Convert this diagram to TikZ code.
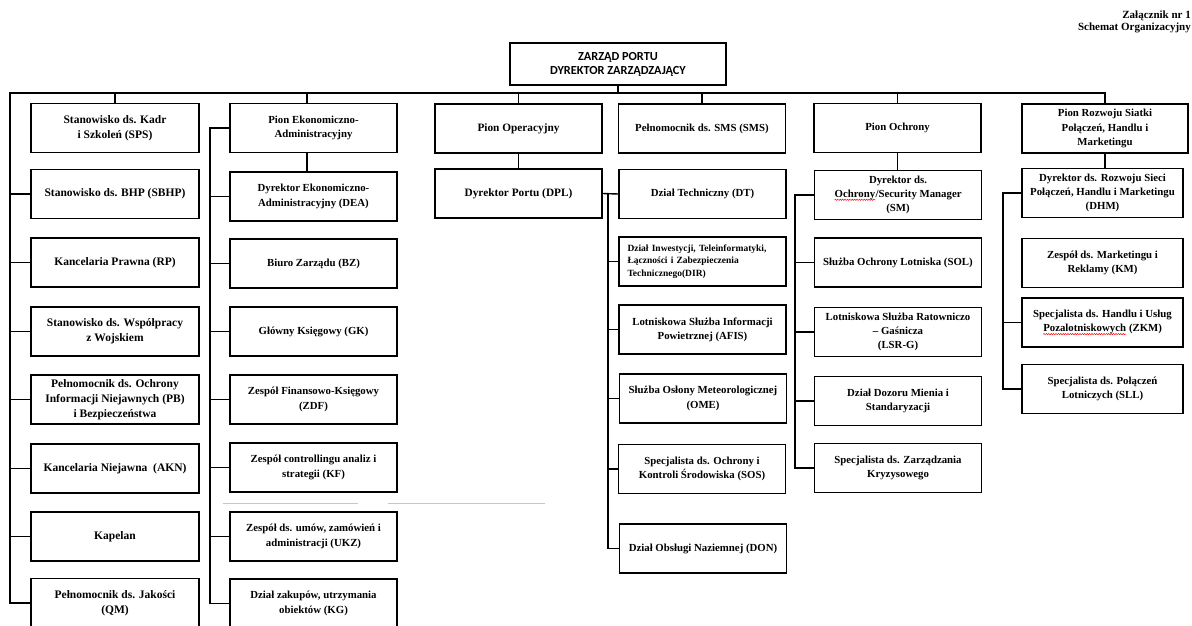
\documentclass[tikz,border=0pt]{standalone}
\usepackage{fontspec}
\setmainfont{Liberation Serif}
\newfontfamily\hdrfont{Carlito}
\usetikzlibrary{decorations.pathmorphing}
\newcommand{\redwave}[1]{\tikz[baseline=(w.base)]{\node[inner sep=0pt,outer sep=0pt,draw=none,minimum width=0pt,minimum height=0pt] (w) {#1};
  \draw[red, line width=0.5pt, decorate, decoration={snake,amplitude=0.6pt,segment length=2.4pt}] ([yshift=-2.2pt]w.base west) -- ([yshift=-2.2pt]w.base east);}}
\begin{document}
\begin{tikzpicture}[x=1pt,y=-1pt,
  box/.style={draw, line width=1.4pt, align=center, inner sep=1pt, minimum height=49pt,
    font=\bfseries\fontsize{10.8}{14.3}\selectfont},
  boxA/.style={box, minimum width=168pt, font=\bfseries\fontsize{11.5}{15}\selectfont},
  boxB/.style={box, minimum width=167pt},
  boxC/.style={box, minimum width=167pt, font=\bfseries\fontsize{11.3}{14.5}\selectfont},
  boxF/.style={box, minimum width=161pt},
  conn/.style={line width=1.4pt}]
\useasboundingbox (0,0) rectangle (1192,625);
\clip (0,0) rectangle (1192,625);
\fill[white] (0,0) rectangle (1192,625);

% header
\node[anchor=north east, align=right, inner sep=0, font=\bfseries\fontsize{11}{11.8}\selectfont] (hdr) at (1191,11) {Załącznik nr 1\\Schemat Organizacyjny};

% top
\node[draw, line width=1.4pt, align=center, minimum width=216pt, minimum height=42pt, inner sep=1pt,
  font=\hdrfont\bfseries\fontsize{12.3}{14}\selectfont] (ZARZ) at (618,64) {ZARZĄD PORTU\\DYREKTOR ZARZĄDZAJĄCY};

% column 1
\node[boxA] (SPS)  at (115,128)   {Stanowisko ds. Kadr\\i Szkoleń (SPS)};
\node[boxA] (SBHP) at (115,194)   {Stanowisko ds. BHP (SBHP)};
\node[boxA] (RP)   at (115,262.5) {Kancelaria Prawna (RP)};
\node[boxA] (WOJ)  at (115,331.5) {Stanowisko ds. Współpracy\\z Wojskiem};
\node[boxA] (PB)   at (115,399.5) {Pełnomocnik ds. Ochrony\\Informacji Niejawnych (PB)\\i Bezpieczeństwa};
\node[boxA] (AKN)  at (115,468.5) {Kancelaria Niejawna\ \ (AKN)};
\node[boxA] (KAP)  at (115,536.5) {Kapelan};
\node[boxA] (QM)   at (115,603)   {Pełnomocnik ds. Jakości\\(QM)};

% column 2
\node[boxB] (PE)  at (313.5,128)   {Pion Ekonomiczno-\\Administracyjny};
\node[boxB] (DEA) at (313.5,196.5) {Dyrektor Ekonomiczno-\\Administracyjny (DEA)};
\node[boxB] (BZ)  at (313.5,263.5) {Biuro Zarządu (BZ)};
\node[boxB] (GK)  at (313.5,331.5) {Główny Księgowy (GK)};
\node[boxB] (ZDF) at (313.5,399.5) {Zespół Finansowo-Księgowy\\(ZDF)};
\node[boxB] (KF)  at (313.5,467.5) {Zespół controllingu analiz i\\strategii (KF)};
\node[boxB] (UKZ) at (313.5,536.5) {Zespół ds. umów, zamówień i\\administracji (UKZ)};
\node[boxB] (KG)  at (313.5,603.5) {Dział zakupów, utrzymania\\obiektów (KG)};

% column 3
\node[boxC] (PO)  at (518.5,128.5) {Pion Operacyjny};
\node[boxC] (DPL) at (518.5,193.5) {Dyrektor Portu (DPL)};

% column 4
\node[boxB] (SMS)  at (702,128.5)   {Pełnomocnik ds. SMS (SMS)};
\node[boxB] (DT)   at (702.5,194)   {Dział Techniczny (DT)};
\node[boxB, align=left, text width=150pt, font=\bfseries\fontsize{9.5}{12.7}\selectfont] (DIR) at (702.5,261.5)
  {Dział Inwestycji, Teleinformatyki,\\Łączności i Zabezpieczenia\\Technicznego(DIR)};
\node[boxB] (AFIS) at (702.5,329.5) {Lotniskowa Służba Informacji\\Powietrznej (AFIS)};
\node[boxB] (OME)  at (703,398.5)   {Służba Osłony Meteorologicznej\\(OME)};
\node[boxB] (SOS)  at (702,469)     {Specjalista ds. Ochrony i\\Kontroli Środowiska (SOS)};
\node[boxB] (DON)  at (703,548.5)   {Dział Obsługi Naziemnej (DON)};

% column 5
\node[boxB] (PoO) at (897.5,128) {Pion Ochrony};
\node[boxB] (SM)  at (898,195)   {Dyrektor ds.\\\redwave{Ochrony}/Security Manager\\(SM)};
\node[boxB] (SOL) at (898,262.5) {Służba Ochrony Lotniska (SOL)};
\node[boxB] (LSR) at (898,332)   {Lotniskowa Służba Ratowniczo\\– Gaśnicza\\(LSR-G)};
\node[boxB] (DOZ) at (898,401)   {Dział Dozoru Mienia i\\Standaryzacji};
\node[boxB] (KRZ) at (898,468)   {Specjalista ds. Zarządzania\\Kryzysowego};

% column 6
\node[box, minimum width=166pt] (PR) at (1105,128.5) {Pion Rozwoju Siatki\\Połączeń, Handlu i\\Marketingu};
\node[boxF] (DHM) at (1102.5,193)   {Dyrektor ds. Rozwoju Sieci\\Połączeń, Handlu i Marketingu\\(DHM)};
\node[boxF] (KM)  at (1102.5,263)   {Zespół ds. Marketingu i\\Reklamy (KM)};
\node[boxF] (ZKM) at (1102.5,322.5) {Specjalista ds. Handlu i Usług\\\redwave{Pozalotniskowych} (ZKM)};
\node[boxF] (SLL) at (1102.5,389)   {Specjalista ds. Połączeń\\Lotniczych (SLL)};

% helper coordinates
\coordinate (busL) at (10,93);
\coordinate (x2) at (210,0);
\coordinate (d2) at (307,0);
\coordinate (x4) at (608,0);
\coordinate (x5) at (795,0);
\coordinate (x6) at (1003,0);

% connectors
\draw[conn] (ZARZ.south) -- (ZARZ.south |- busL);
\draw[conn] (QM.west) -| (busL) -| (PR.north);
\foreach \n in {SBHP,RP,WOJ,PB,AKN,KAP} \draw[conn] (\n.west) -- (\n.west -| busL);
\foreach \n in {SPS,PO,SMS,PoO} \draw[conn] (\n.north) -- (\n.north |- busL);
\draw[conn] (PE.north -| d2) -- (busL -| d2);
\draw[conn] (PE.south -| d2) -- (DEA.north -| d2);
\draw[conn] (PE.west) -| (KG.west -| x2) -- (KG.west);
\foreach \n in {DEA,BZ,GK,ZDF,KF,UKZ} \draw[conn] (\n.west) -- (\n.west -| x2);
\draw[conn] (PO.south) -- (DPL.north);
\draw[conn] (DPL.east) -- (DT.west);
\draw[conn] (DPL.east -| x4) |- (DON.west);
\foreach \n in {DIR,AFIS,OME,SOS} \draw[conn] (\n.west) -- (\n.west -| x4);
\draw[conn] (PoO.south) -- (PoO.south |- SM.north);
\draw[conn] (SM.west) -| (KRZ.west -| x5) -- (KRZ.west);
\foreach \n in {SOL,LSR,DOZ} \draw[conn] (\n.west) -- (\n.west -| x5);
\draw[conn] (PR.south) -- (PR.south |- DHM.north);
\draw[conn] (DHM.west) -| (SLL.west -| x6) -- (SLL.west);
\draw[conn] (ZKM.west) -- (ZKM.west -| x6);

% faint scan line
\draw[cyan!45, line width=0.6pt] (223,503) -- (358,503) (388,503) -- (545,503);
\end{tikzpicture}
\end{document}
